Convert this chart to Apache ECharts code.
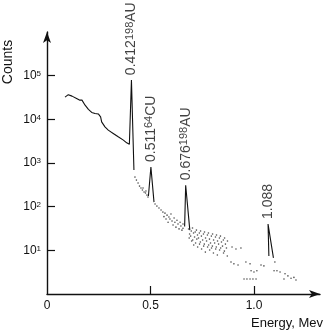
<!DOCTYPE html>
<html>
<head>
<meta charset="utf-8">
<script src="https://cdn.jsdelivr.net/npm/echarts@6/dist/echarts.min.js"></script>
<style>
  html, body { margin: 0; padding: 0; background: #fff; }
  #main { width: 330px; height: 332px; }
</style>
</head>
<body>
<div id="main"></div>
<script>
// smooth part of the spectrum up to the 0.412 peak: [energy Mev, counts]
const mainCurve = [
  [0.087, 32200], [0.103, 36700], [0.121, 34000], [0.143, 30100], [0.159, 27500],
  [0.169, 27500], [0.184, 21100], [0.200, 16900], [0.216, 14400], [0.232, 13600],
  [0.248, 13300], [0.259, 11400], [0.264, 8770], [0.280, 6730], [0.296, 5660],
  [0.320, 4750], [0.344, 3980], [0.369, 3340], [0.385, 2900], [0.398, 2700],
  [0.408, 79000], [0.420, 690]
];
const peakCu = [[0.490, 175], [0.502, 810], [0.517, 127]];
const peakAu = [[0.665, 35], [0.670, 310], [0.690, 29]];
const peak1088 = [[1.072, 7.4], [1.068, 40], [1.094, 6.7]];

// dotted / scattered counts
const dots = [
  [0.425, 476], [0.432, 406], [0.440, 347], [0.447, 296], [0.454, 267], [0.461, 240],
  [0.464, 267], [0.469, 216], [0.476, 205], [0.478, 228], [0.483, 184], [0.488, 166],
  [0.522, 115], [0.531, 103], [0.541, 93], [0.551, 84], [0.560, 75], [0.565, 59],
  [0.570, 71], [0.575, 52], [0.580, 64], [0.585, 44], [0.589, 58], [0.594, 52],
  [0.599, 68], [0.604, 47], [0.609, 38], [0.614, 55], [0.618, 44], [0.623, 34],
  [0.628, 49], [0.633, 40], [0.638, 31], [0.643, 44], [0.647, 36], [0.652, 29],
  [0.657, 40], [0.657, 32],
  [0.684, 30.7], [0.689, 23.6], [0.687, 19.1],
  [0.697, 27.7], [0.694, 21.2], [0.699, 16.3],
  [0.703, 32.4], [0.708, 24.9], [0.704, 17.2], [0.709, 13.2],
  [0.716, 26.2], [0.713, 20.2], [0.718, 14.7],
  [0.722, 29.1], [0.727, 22.4], [0.724, 18.1], [0.728, 11.9],
  [0.736, 24.9], [0.732, 19.1], [0.737, 13.9],
  [0.742, 27.7], [0.746, 21.2], [0.741, 15.5], [0.747, 10.7],
  [0.756, 23.6], [0.752, 17.2], [0.757, 12.5],
  [0.761, 26.2], [0.766, 19.1], [0.760, 13.9], [0.765, 9.1],
  [0.775, 22.4], [0.771, 16.3], [0.776, 11.9],
  [0.780, 24.9], [0.785, 18.1], [0.781, 13.2], [0.786, 10.2],
  [0.794, 21.2], [0.790, 14.7], [0.795, 11.3],
  [0.800, 23.6], [0.805, 17.2], [0.799, 12.5], [0.804, 8.7],
  [0.814, 20.2], [0.810, 14.7], [0.815, 10.7],
  [0.819, 22.4], [0.824, 16.3], [0.818, 11.9], [0.823, 7.8],
  [0.833, 19.1], [0.829, 13.9], [0.834, 10.2],
  [0.838, 21.2], [0.843, 15.5], [0.839, 11.3],
  [0.852, 17.2], [0.848, 12.5], [0.853, 8.7],
  [0.858, 19.1], [0.862, 13.9], [0.857, 9.6],
  [0.872, 16.3], [0.867, 11.3], [0.871, 7.4],
  [0.894, 11.9], [0.913, 10.7], [0.937, 11.3], [0.889, 5.4], [0.903, 4.9], [0.923, 4.6],
  [0.961, 5.4], [0.981, 4.9], [0.952, 2.2], [0.966, 2.2], [0.981, 2.2], [0.995, 2.2],
  [1.010, 2.2], [0.986, 3.4], [1.000, 3.2], [1.014, 3.4], [1.034, 4.6], [1.048, 4.4],
  [1.101, 5.4], [1.097, 3.4], [1.111, 3.4], [1.126, 3.2], [1.150, 2.9], [1.164, 2.6],
  [1.179, 2.3], [1.193, 2.4], [1.203, 2.1], [1.145, 2.2]
];

// peak annotations
const peakTops = [[0.408, 79000], [0.502, 810], [0.670, 310], [1.068, 40]];
const peakEnergies = ['0.412', '0.511', '0.676', '1.088'];
const peakMass = ['198', '64', '198', ''];
const peakElement = ['AU', 'CU', 'AU', ''];

const xLabels = [0, 0.5, 1.0];
const yLabels = [10, 100, 1000, 10000, 100000];

const font = 'Liberation Sans, Arial, Helvetica, sans-serif';
const ink = '#111';

let myChart = echarts.init(document.getElementById('main'));

const lineStyle = { color: ink, width: 1.1 };

myChart.setOption({
  animation: false,
  backgroundColor: '#fff',
  grid: { left: 47, right: 10, top: 32, bottom: 38, outerBoundsMode: 'none' },
  xAxis: {
    type: 'value',
    min: 0,
    max: 1.319,
    name: 'Energy, Mev',
    nameLocation: 'end',
    nameGap: 3,
    nameTextStyle: {
      fontFamily: font, fontSize: 13, color: ink,
      align: 'right', verticalAlign: 'top', padding: [23, 0, 0, 0]
    },
    axisLine: { lineStyle: { color: ink, width: 1.4 }, symbol: ['none', 'arrow'], symbolSize: [6, 11] },
    axisTick: { inside: true, length: 8, customValues: [0.5, 1.0], lineStyle: { color: ink, width: 1.2 } },
    axisLabel: {
      customValues: xLabels, margin: 6, fontFamily: font, fontSize: 12, color: ink,
      formatter: v => v === 0 ? '0' : v.toFixed(1)
    },
    splitLine: { show: false }
  },
  yAxis: {
    type: 'log',
    logBase: 10,
    min: 1,
    max: 1000000,
    axisLine: { lineStyle: { color: ink, width: 1.4 }, symbol: ['none', 'arrow'], symbolSize: [6, 11] },
    axisTick: { inside: true, length: 8, customValues: yLabels, lineStyle: { color: ink, width: 1.2 } },
    axisLabel: {
      customValues: yLabels, margin: 6, color: ink,
      formatter: v => '{b|10}{s|' + Math.round(Math.log10(v)) + '}',
      rich: {
        b: { fontFamily: font, fontSize: 12, color: ink, verticalAlign: 'bottom' },
        s: { fontFamily: font, fontSize: 8, color: ink, verticalAlign: 'top' }
      }
    },
    splitLine: { show: false }
  },
  graphic: [{
    type: 'text',
    x: 8, y: 62,
    rotation: Math.PI / 2,
    style: { text: 'Counts', fontFamily: font, fontSize: 14, fill: ink, align: 'center', verticalAlign: 'middle' }
  }],
  series: [
    { type: 'line', data: mainCurve, showSymbol: false, lineStyle: lineStyle, silent: true },
    { type: 'line', data: peakCu, showSymbol: false, lineStyle: lineStyle, silent: true },
    { type: 'line', data: peakAu, showSymbol: false, lineStyle: lineStyle, silent: true },
    { type: 'line', data: peak1088, showSymbol: false, lineStyle: lineStyle, silent: true },
    { type: 'scatter', data: dots, symbolSize: 1.6, itemStyle: { color: '#222' }, silent: true },
    {
      type: 'scatter',
      symbolSize: 0,
      silent: true,
      data: peakTops.map((p, i) => ({ value: p, name: String(i) })),
      label: {
        show: true,
        position: 'top',
        distance: 5,
        rotate: 90,
        align: 'left',
        verticalAlign: 'middle',
        formatter: p => {
          const i = Number(p.name);
          let t = '{n|' + peakEnergies[i] + '}';
          if (peakMass[i]) t += '{s|' + peakMass[i] + '}{n|' + peakElement[i] + '}';
          return t;
        },
        rich: {
          n: { fontFamily: font, fontSize: 14, color: ink, verticalAlign: 'bottom' },
          s: { fontFamily: font, fontSize: 11, color: ink, verticalAlign: 'top' }
        }
      }
    }
  ]
});
</script>
</body>
</html>
